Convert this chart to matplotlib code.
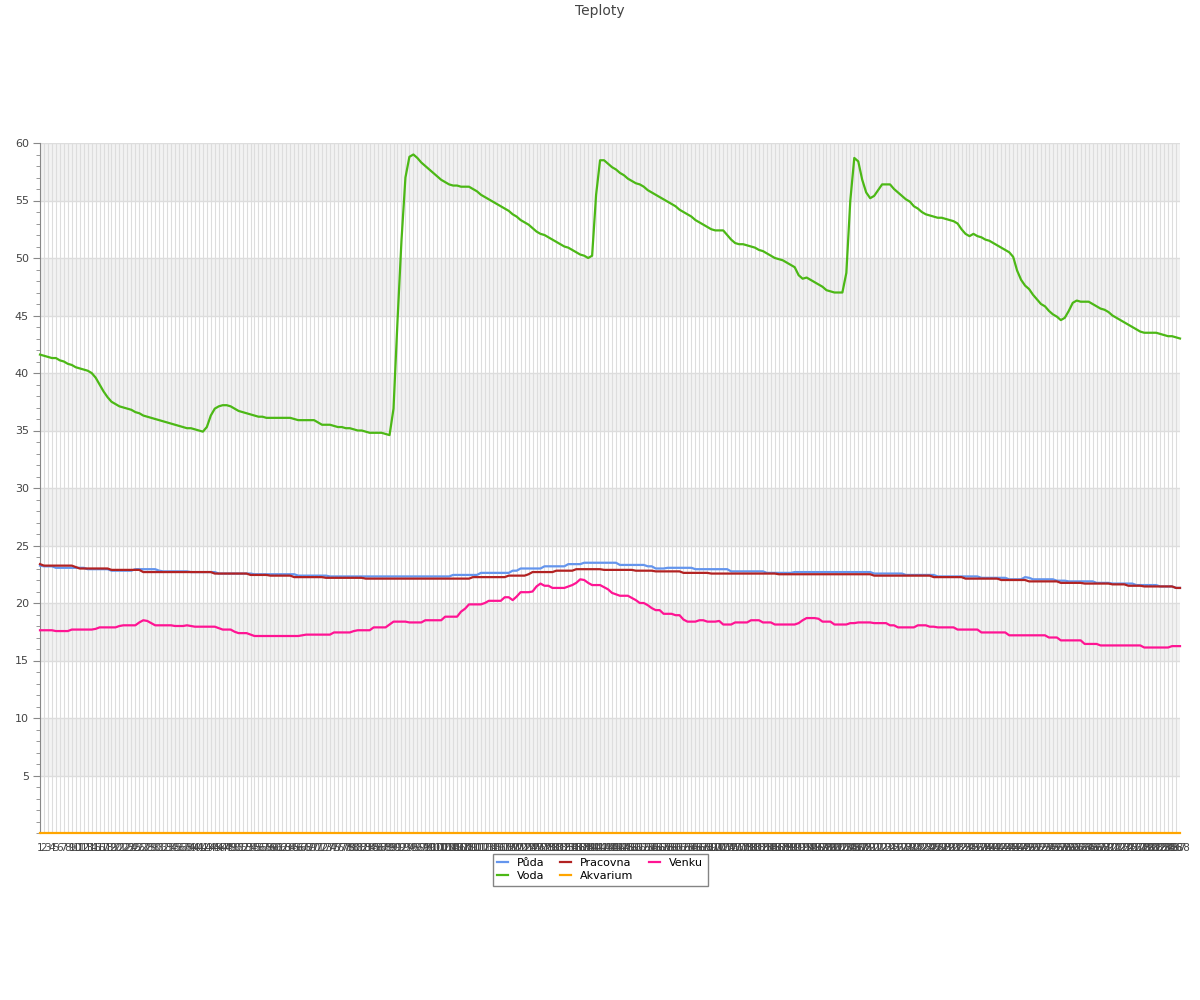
import matplotlib
matplotlib.use("Agg")
from matplotlib import pyplot as plt
import numpy as np

# categories are sample numbers 1..288
labels = [str(n) for n in range(1, 289)]

puda = [
    23.25, 23.19, 23.19, 23.19, 23.06, 23.06, 23.06, 23.06, 23.06, 23.06, 23.06, 23.06,
    22.94, 22.94, 22.94, 22.94, 22.94, 22.94, 22.81, 22.81, 22.81, 22.81, 22.81, 22.81,
    22.94, 22.94, 22.94, 22.94, 22.94, 22.94, 22.81, 22.75, 22.75, 22.75, 22.75, 22.75,
    22.75, 22.75, 22.69, 22.69, 22.69, 22.69, 22.69, 22.69, 22.69, 22.56, 22.56, 22.56,
    22.56, 22.56, 22.56, 22.56, 22.56, 22.56, 22.50, 22.50, 22.50, 22.50, 22.50, 22.50,
    22.50, 22.50, 22.50, 22.50, 22.50, 22.38, 22.38, 22.38, 22.38, 22.38, 22.38, 22.38,
    22.38, 22.31, 22.31, 22.31, 22.31, 22.31, 22.31, 22.31, 22.31, 22.31, 22.31, 22.31,
    22.31, 22.31, 22.31, 22.31, 22.31, 22.31, 22.31, 22.31, 22.31, 22.31, 22.31, 22.31,
    22.31, 22.31, 22.31, 22.31, 22.31, 22.31, 22.31, 22.31, 22.44, 22.44, 22.44, 22.44,
    22.44, 22.44, 22.44, 22.62, 22.62, 22.62, 22.62, 22.62, 22.62, 22.62, 22.62, 22.81,
    22.81, 23.00, 23.00, 23.00, 23.00, 23.00, 23.00, 23.19, 23.19, 23.19, 23.19, 23.19,
    23.19, 23.38, 23.38, 23.38, 23.38, 23.50, 23.50, 23.50, 23.50, 23.50, 23.50, 23.50,
    23.50, 23.50, 23.31, 23.31, 23.31, 23.31, 23.31, 23.31, 23.31, 23.19, 23.19, 23.00,
    23.00, 23.00, 23.06, 23.06, 23.06, 23.06, 23.06, 23.06, 23.06, 22.94, 22.94, 22.94,
    22.94, 22.94, 22.94, 22.94, 22.94, 22.94, 22.75, 22.75, 22.75, 22.75, 22.75, 22.75,
    22.75, 22.75, 22.75, 22.62, 22.62, 22.62, 22.62, 22.62, 22.62, 22.62, 22.69, 22.69,
    22.69, 22.69, 22.69, 22.69, 22.69, 22.69, 22.69, 22.69, 22.69, 22.69, 22.69, 22.69,
    22.69, 22.69, 22.69, 22.69, 22.69, 22.69, 22.56, 22.56, 22.56, 22.56, 22.56, 22.56,
    22.56, 22.56, 22.44, 22.44, 22.44, 22.44, 22.44, 22.44, 22.44, 22.44, 22.31, 22.31,
    22.31, 22.31, 22.31, 22.31, 22.31, 22.31, 22.31, 22.31, 22.31, 22.19, 22.19, 22.19,
    22.19, 22.19, 22.19, 22.19, 22.06, 22.06, 22.06, 22.06, 22.25, 22.19, 22.06, 22.06,
    22.06, 22.06, 22.06, 22.06, 21.94, 21.94, 21.94, 21.88, 21.88, 21.88, 21.88, 21.88,
    21.88, 21.88, 21.75, 21.75, 21.75, 21.75, 21.69, 21.69, 21.69, 21.69, 21.69, 21.69,
    21.56, 21.56, 21.56, 21.56, 21.56, 21.56, 21.44, 21.44, 21.44, 21.44, 21.31, 21.31,
]

voda = [
    41.6, 41.5, 41.4, 41.3, 41.3, 41.1, 41.0, 40.8, 40.7, 40.5, 40.4, 40.3,
    40.2, 40.0, 39.6, 39.0, 38.4, 37.9, 37.5, 37.3, 37.1, 37.0, 36.9, 36.8,
    36.6, 36.5, 36.3, 36.2, 36.1, 36.0, 35.9, 35.8, 35.7, 35.6, 35.5, 35.4,
    35.3, 35.2, 35.2, 35.1, 35.0, 34.9, 35.3, 36.3, 36.9, 37.1, 37.2, 37.2,
    37.1, 36.9, 36.7, 36.6, 36.5, 36.4, 36.3, 36.2, 36.2, 36.1, 36.1, 36.1,
    36.1, 36.1, 36.1, 36.1, 36.0, 35.9, 35.9, 35.9, 35.9, 35.9, 35.7, 35.5,
    35.5, 35.5, 35.4, 35.3, 35.3, 35.2, 35.2, 35.1, 35.0, 35.0, 34.9, 34.8,
    34.8, 34.8, 34.8, 34.7, 34.6, 36.9, 44.5, 51.5, 57.0, 58.8, 59.0, 58.7,
    58.3, 58.0, 57.7, 57.4, 57.1, 56.8, 56.6, 56.4, 56.3, 56.3, 56.2, 56.2,
    56.2, 56.0, 55.8, 55.5, 55.3, 55.1, 54.9, 54.7, 54.5, 54.3, 54.1, 53.8,
    53.6, 53.3, 53.1, 52.9, 52.6, 52.3, 52.1, 52.0, 51.8, 51.6, 51.4, 51.2,
    51.0, 50.9, 50.7, 50.5, 50.3, 50.2, 50.0, 50.2, 55.5, 58.5, 58.5, 58.2,
    57.9, 57.7, 57.4, 57.2, 56.9, 56.7, 56.5, 56.4, 56.2, 55.9, 55.7, 55.5,
    55.3, 55.1, 54.9, 54.7, 54.5, 54.2, 54.0, 53.8, 53.6, 53.3, 53.1, 52.9,
    52.7, 52.5, 52.4, 52.4, 52.4, 52.0, 51.6, 51.3, 51.2, 51.2, 51.1, 51.0,
    50.9, 50.7, 50.6, 50.4, 50.2, 50.0, 49.9, 49.8, 49.6, 49.4, 49.2, 48.5,
    48.2, 48.3, 48.1, 47.9, 47.7, 47.5, 47.2, 47.1, 47.0, 47.0, 47.0, 48.7,
    55.0, 58.7, 58.4, 56.8, 55.7, 55.2, 55.4, 55.9, 56.4, 56.4, 56.4, 56.0,
    55.7, 55.4, 55.1, 54.9, 54.5, 54.3, 54.0, 53.8, 53.7, 53.6, 53.5, 53.5,
    53.4, 53.3, 53.2, 53.0, 52.5, 52.1, 51.9, 52.1, 51.9, 51.8, 51.6, 51.5,
    51.3, 51.1, 50.9, 50.7, 50.5, 50.1, 48.9, 48.1, 47.6, 47.3, 46.8, 46.4,
    46.0, 45.8, 45.4, 45.1, 44.9, 44.6, 44.8, 45.4, 46.1, 46.3, 46.2, 46.2,
    46.2, 46.0, 45.8, 45.6, 45.5, 45.3, 45.0, 44.8, 44.6, 44.4, 44.2, 44.0,
    43.8, 43.6, 43.5, 43.5, 43.5, 43.5, 43.4, 43.3, 43.2, 43.2, 43.1, 43.0,
]

pracovna = [
    23.38, 23.25, 23.25, 23.25, 23.25, 23.25, 23.25, 23.25, 23.25, 23.12, 23.00, 23.00,
    23.00, 23.00, 23.00, 23.00, 23.00, 23.00, 22.88, 22.88, 22.88, 22.88, 22.88, 22.88,
    22.88, 22.88, 22.69, 22.69, 22.69, 22.69, 22.69, 22.69, 22.69, 22.69, 22.69, 22.69,
    22.69, 22.69, 22.69, 22.69, 22.69, 22.69, 22.69, 22.69, 22.56, 22.56, 22.56, 22.56,
    22.56, 22.56, 22.56, 22.56, 22.56, 22.44, 22.44, 22.44, 22.44, 22.44, 22.38, 22.38,
    22.38, 22.38, 22.38, 22.38, 22.25, 22.25, 22.25, 22.25, 22.25, 22.25, 22.25, 22.25,
    22.19, 22.19, 22.19, 22.19, 22.19, 22.19, 22.19, 22.19, 22.19, 22.19, 22.12, 22.12,
    22.12, 22.12, 22.12, 22.12, 22.12, 22.12, 22.12, 22.12, 22.12, 22.12, 22.12, 22.12,
    22.12, 22.12, 22.12, 22.12, 22.12, 22.12, 22.12, 22.12, 22.12, 22.12, 22.12, 22.12,
    22.12, 22.25, 22.25, 22.25, 22.25, 22.25, 22.25, 22.25, 22.25, 22.25, 22.38, 22.38,
    22.38, 22.38, 22.38, 22.50, 22.69, 22.69, 22.69, 22.69, 22.69, 22.69, 22.81, 22.81,
    22.81, 22.81, 22.81, 22.94, 22.94, 22.94, 22.94, 22.94, 22.94, 22.94, 22.88, 22.88,
    22.88, 22.88, 22.88, 22.88, 22.88, 22.88, 22.81, 22.81, 22.81, 22.81, 22.81, 22.75,
    22.75, 22.75, 22.75, 22.75, 22.75, 22.75, 22.62, 22.62, 22.62, 22.62, 22.62, 22.62,
    22.62, 22.56, 22.56, 22.56, 22.56, 22.56, 22.56, 22.56, 22.56, 22.56, 22.56, 22.56,
    22.56, 22.56, 22.56, 22.56, 22.56, 22.56, 22.50, 22.50, 22.50, 22.50, 22.50, 22.50,
    22.50, 22.50, 22.50, 22.50, 22.50, 22.50, 22.50, 22.50, 22.50, 22.50, 22.50, 22.50,
    22.50, 22.50, 22.50, 22.50, 22.50, 22.50, 22.38, 22.38, 22.38, 22.38, 22.38, 22.38,
    22.38, 22.38, 22.38, 22.38, 22.38, 22.38, 22.38, 22.38, 22.38, 22.25, 22.25, 22.25,
    22.25, 22.25, 22.25, 22.25, 22.25, 22.12, 22.12, 22.12, 22.12, 22.12, 22.12, 22.12,
    22.12, 22.12, 22.00, 22.00, 22.00, 22.00, 22.00, 22.00, 22.00, 21.88, 21.88, 21.88,
    21.88, 21.88, 21.88, 21.88, 21.88, 21.75, 21.75, 21.75, 21.75, 21.75, 21.75, 21.69,
    21.69, 21.69, 21.69, 21.69, 21.69, 21.69, 21.62, 21.62, 21.62, 21.62, 21.50, 21.50,
    21.50, 21.50, 21.44, 21.44, 21.44, 21.44, 21.44, 21.44, 21.44, 21.44, 21.31, 21.31,
]

akvarium = [0.0] * 288  # aquarium sensor reads 0 the whole time

venku = [
    17.63, 17.63, 17.63, 17.63, 17.56, 17.56, 17.56, 17.56, 17.69, 17.69, 17.69, 17.69,
    17.69, 17.69, 17.75, 17.88, 17.88, 17.88, 17.88, 17.88, 18.00, 18.06, 18.06, 18.06,
    18.06, 18.31, 18.50, 18.44, 18.25, 18.06, 18.06, 18.06, 18.06, 18.06, 18.00, 18.00,
    18.00, 18.06, 18.00, 17.94, 17.94, 17.94, 17.94, 17.94, 17.94, 17.81, 17.69, 17.69,
    17.69, 17.50, 17.38, 17.38, 17.38, 17.25, 17.13, 17.13, 17.13, 17.13, 17.13, 17.13,
    17.13, 17.13, 17.13, 17.13, 17.13, 17.13, 17.19, 17.25, 17.25, 17.25, 17.25, 17.25,
    17.25, 17.25, 17.44, 17.44, 17.44, 17.44, 17.44, 17.56, 17.63, 17.63, 17.63, 17.63,
    17.88, 17.88, 17.88, 17.88, 18.13, 18.38, 18.38, 18.38, 18.38, 18.31, 18.31, 18.31,
    18.31, 18.50, 18.50, 18.50, 18.50, 18.50, 18.81, 18.81, 18.81, 18.81, 19.25, 19.50,
    19.88, 19.88, 19.88, 19.88, 20.00, 20.19, 20.19, 20.19, 20.19, 20.50, 20.50, 20.25,
    20.56, 20.94, 20.94, 20.94, 21.00, 21.44, 21.69, 21.50, 21.50, 21.31, 21.31, 21.31,
    21.31, 21.44, 21.56, 21.75, 22.06, 22.00, 21.75, 21.56, 21.56, 21.56, 21.38, 21.19,
    20.88, 20.75, 20.63, 20.63, 20.63, 20.44, 20.25, 20.00, 20.00, 19.81, 19.56, 19.38,
    19.38, 19.06, 19.06, 19.06, 18.94, 18.94, 18.56, 18.38, 18.38, 18.38, 18.50, 18.50,
    18.38, 18.38, 18.38, 18.44, 18.13, 18.13, 18.13, 18.31, 18.31, 18.31, 18.31, 18.50,
    18.50, 18.50, 18.31, 18.31, 18.31, 18.13, 18.13, 18.13, 18.13, 18.13, 18.13, 18.25,
    18.50, 18.69, 18.69, 18.69, 18.63, 18.38, 18.38, 18.38, 18.13, 18.13, 18.13, 18.13,
    18.25, 18.25, 18.31, 18.31, 18.31, 18.31, 18.25, 18.25, 18.25, 18.25, 18.06, 18.06,
    17.88, 17.88, 17.88, 17.88, 17.88, 18.06, 18.06, 18.06, 17.94, 17.94, 17.88, 17.88,
    17.88, 17.88, 17.88, 17.69, 17.69, 17.69, 17.69, 17.69, 17.69, 17.44, 17.44, 17.44,
    17.44, 17.44, 17.44, 17.44, 17.19, 17.19, 17.19, 17.19, 17.19, 17.19, 17.19, 17.19,
    17.19, 17.19, 17.00, 17.00, 17.00, 16.75, 16.75, 16.75, 16.75, 16.75, 16.75, 16.44,
    16.44, 16.44, 16.44, 16.31, 16.31, 16.31, 16.31, 16.31, 16.31, 16.31, 16.31, 16.31,
    16.31, 16.31, 16.13, 16.13, 16.13, 16.13, 16.13, 16.13, 16.13, 16.25, 16.25, 16.25,
]

series = [
    ("Půda", puda, "#6495ed"),
    ("Voda", voda, "#4cb816"),
    ("Pracovna", pracovna, "#b22222"),
    ("Akvarium", akvarium, "#ffa500"),
    ("Venku", venku, "#ff1493"),
]
for name, vals, _ in series:
    assert len(vals) == len(labels), name

fig = plt.figure(figsize=(12, 10), dpi=100)
ax = fig.add_axes([40 / 1200, 1 - 833 / 1000, 1140 / 1200, 690 / 1000])

x = np.arange(len(labels))

# alternating grey bands every 5 degrees
for lo in range(5, 60, 10):
    ax.axhspan(lo, lo + 5, color="#f2f2f2", zorder=0, lw=0)
for gy in range(5, 61, 5):
    ax.axhline(gy, color="#dddddd", lw=1, zorder=0.5)
for gx in x:
    ax.axvline(gx, color="#dddddd", lw=0.8, zorder=0.5)

for name, vals, col in series:
    ax.plot(x, vals, color=col, lw=1.6, label=name, zorder=3,
            solid_joinstyle="round", clip_on=False)

ax.set_xlim(0, len(labels) - 1)
ax.set_ylim(0, 60)
ax.set_yticks(range(5, 61, 5))
ax.set_yticks(range(0, 61), minor=True)
ax.tick_params(axis="y", which="major", length=5, color="#888888", labelsize=8, labelcolor="#444444", pad=3)
ax.tick_params(axis="y", which="minor", length=3, color="#888888")
ax.set_xticks(x)
ax.set_xticklabels(labels, fontsize=7.5, color="#444444")
ax.tick_params(axis="x", length=0, pad=7)

for side in ["top", "right", "bottom"]:
    ax.spines[side].set_visible(False)
ax.spines["left"].set_color("#888888")

fig.text(0.5, 0.989, "Teploty", ha="center", va="center", fontsize=10, color="#444444")

fig.legend(loc="upper center", bbox_to_anchor=(0.5, 0.152), ncol=3, fontsize=8,
           frameon=True, fancybox=False, edgecolor="#666666", handlelength=1.0,
           columnspacing=1.4, borderpad=0.4, labelspacing=0.3, handletextpad=0.8)

plt.savefig("out.png", dpi=100)
